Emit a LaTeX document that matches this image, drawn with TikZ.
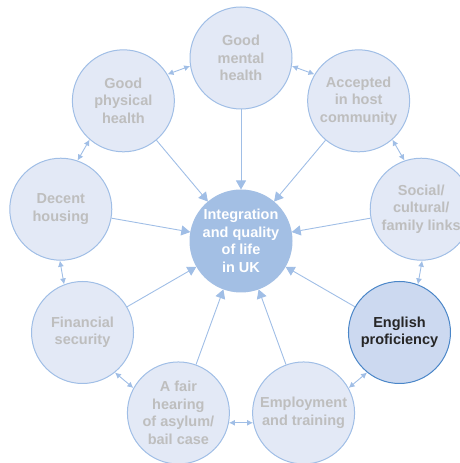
\documentclass[tikz,border=0pt]{standalone}
\usepackage{fontspec}
\setmainfont{Liberation Sans}
\usepackage{xcolor}
\usetikzlibrary{arrows.meta,calc}

\definecolor{ringfill}{HTML}{E3E9F6}
\definecolor{ringdraw}{HTML}{A0BEE6}
\definecolor{ringtext}{HTML}{BEBEBE}
\definecolor{hubfill}{HTML}{A3BFE4}
\definecolor{keyfill}{HTML}{CCD9F0}
\definecolor{keydraw}{HTML}{4A86C8}

\tikzset{
    goal/.style={circle, draw=ringdraw, line width=1pt, fill=ringfill,
        minimum size=102pt, inner sep=0pt, align=center, text=ringtext,
        font=\fontsize{14.5}{17.5}\selectfont\bfseries},
    hub/.style={goal, draw=hubfill, fill=hubfill, text=white},
    keygoal/.style={goal, draw=keydraw, fill=keyfill, text=black!85},
    feed/.style={draw=ringdraw, line width=0.9pt, -{Triangle[length=9pt,width=10pt]}},
    link/.style={draw=ringdraw, line width=0.9pt,
        {Latex[length=6pt,width=6pt]}-{Latex[length=6pt,width=6pt]}}
}

\begin{document}
\begin{tikzpicture}[x=1pt, y=1pt]
        \useasboundingbox (0,0) rectangle (459,463);
        % Centre
        \node[hub] (hub) at (241,222) {Integration\\and quality\\of life\\in UK};
        % Ring, every 40 degrees
        \node[goal] (social) at ($(hub)+(10:183)$) {Social/\\cultural/\\family links};
        \node[goal] (accepted) at ($(hub)+(50:183)$) {Accepted\\in host\\community};
        \node[goal] (mental) at ($(hub)+(90:183)$) {Good\\mental\\health};
        \node[goal] (physical) at ($(hub)+(130:183)$) {Good\\physical\\health};
        \node[goal] (housing) at ($(hub)+(170:183)$) {Decent\\housing};
        \node[goal] (financial) at ($(hub)+(210:183)$) {Financial\\security};
        \node[goal] (hearing) at ($(hub)+(250:183)$) {A fair\\hearing\\of asylum/\\bail case};
        \node[goal] (employment) at ($(hub)+(290:183)$) {Employment\\and training};
        \node[keygoal] (english) at ($(hub)+(330:183)$) {English\\proficiency};

        % Arrows into the centre
        \foreach \n in {social,accepted,mental,physical,housing,financial,hearing,employment,english} {
            \draw[feed] (\n) -- (hub);
        }
        % Links round the ring
        \foreach \a/\b [count=\i from 0, evaluate=\i as \s using int(109+40*\i),
                evaluate=\i as \e using int(-49+40*\i)] in
                {social/accepted,accepted/mental,mental/physical,physical/housing,housing/financial,
                 financial/hearing,hearing/employment,employment/english,english/social} {
            \draw[link] (\a.\s) -- (\b.\e);
        }
    \end{tikzpicture}
\end{document}
